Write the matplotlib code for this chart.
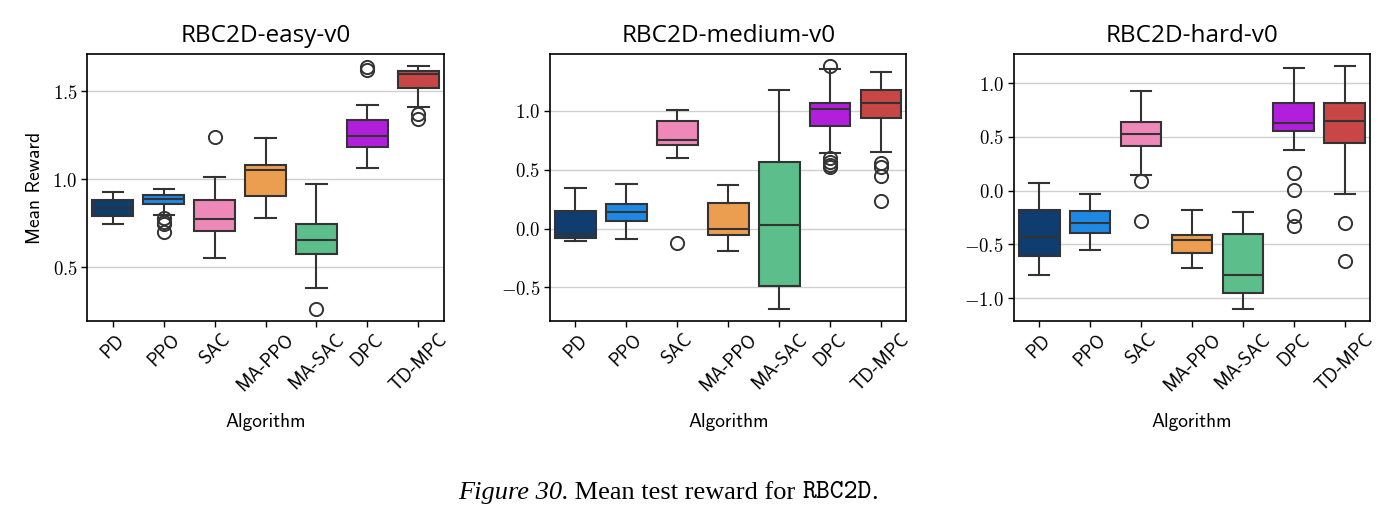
import os
import matplotlib
matplotlib.use("Agg")
import matplotlib.pyplot as plt
from matplotlib import font_manager
from matplotlib.ticker import FuncFormatter, MultipleLocator

_fdir = os.path.join(matplotlib.get_data_path(), "fonts", "ttf")
for _f in ("cmss10.ttf", "cmr10.ttf", "cmtt10.ttf"):
    _p = os.path.join(_fdir, _f)
    if os.path.exists(_p):
        font_manager.fontManager.addfont(_p)

plt.rcParams['mathtext.fontset'] = 'cm'

algorithms = ["PD", "PPO", "SAC", "MA-PPO", "MA-SAC", "DPC", "TD-MPC"]
colors = ["#0f3d70", "#1e88e5", "#ee88b8", "#eb9d50", "#5cbe8a", "#b11fdd", "#c94646"]
titles = ["RBC2D-easy-v0", "RBC2D-medium-v0", "RBC2D-hard-v0"]

# easy
easy_whislo = [0.748, 0.797, 0.551, 0.780, 0.381, 1.064, 1.409]
easy_q1     = [0.792, 0.858, 0.708, 0.903, 0.574, 1.186, 1.517]
easy_med    = [0.839, 0.890, 0.777, 1.051, 0.653, 1.248, 1.600]
easy_q3     = [0.884, 0.909, 0.883, 1.080, 0.746, 1.337, 1.617]
easy_whishi = [0.926, 0.945, 1.013, 1.233, 0.972, 1.422, 1.644]
easy_fliers = [[], [0.778, 0.759, 0.746, 0.703], [1.242], [], [0.263], [1.640, 1.621], [1.371, 1.345]]

# medium
med_whislo = [-0.105, -0.091, 0.603, -0.190, -0.680, 0.646, 0.652]
med_q1     = [-0.079, 0.068, 0.714, -0.057, -0.487, 0.873, 0.941]
med_med    = [-0.042, 0.142, 0.751, -0.006, 0.028, 1.014, 1.065]
med_q3     = [0.150, 0.210, 0.918, 0.218, 0.567, 1.071, 1.178]
med_whishi = [0.346, 0.380, 1.006, 0.368, 1.176, 1.354, 1.331]
med_fliers = [[], [], [-0.122], [], [], [1.382, 0.598, 0.569, 0.541, 0.521], [0.561, 0.527, 0.448, 0.232]]

# hard
hard_whislo = [-0.784, -0.552, 0.146, -0.716, -1.098, 0.381, -0.034]
hard_q1     = [-0.611, -0.397, 0.416, -0.580, -0.949, 0.555, 0.440]
hard_med    = [-0.431, -0.304, 0.527, -0.462, -0.781, 0.626, 0.651]
hard_q3     = [-0.180, -0.189, 0.642, -0.409, -0.406, 0.816, 0.812]
hard_whishi = [0.074, -0.031, 0.927, -0.180, -0.202, 1.141, 1.160]
hard_fliers = [[], [], [0.087, -0.285], [], [], [0.161, 0.006, -0.233, -0.329], [-0.298, -0.657]]

panels = [
    (easy_whislo, easy_q1, easy_med, easy_q3, easy_whishi, easy_fliers, (0.195, 1.712), 0.5),
    (med_whislo, med_q1, med_med, med_q3, med_whishi, med_fliers, (-0.785, 1.484), 0.5),
    (hard_whislo, hard_q1, hard_med, hard_q3, hard_whishi, hard_fliers, (-1.212, 1.271), 0.5),
]

W, H = 1395, 523
fig = plt.figure(figsize=(W / 100, H / 100), dpi=100)
lefts = [87.3, 550.0, 1013.7]
aw = 356.5
top_px, bot_px = 54, 321

label_font = ['cmss10', 'DejaVu Sans']
edge = "#333333"

for i, (wlo, q1, med, q3, whi, fl, ylim, step) in enumerate(panels):
    ax = fig.add_axes([lefts[i] / W, 1 - bot_px / H, aw / W, (bot_px - top_px) / H])
    stats = []
    for j in range(len(algorithms)):
        stats.append(dict(whislo=wlo[j], q1=q1[j], med=med[j], q3=q3[j],
                          whishi=whi[j], fliers=fl[j], label=algorithms[j]))
    bp = ax.bxp(stats, positions=range(len(algorithms)), widths=0.8,
                patch_artist=True, showfliers=True,
                boxprops=dict(edgecolor=edge, linewidth=1.5),
                medianprops=dict(color=edge, linewidth=1.5),
                whiskerprops=dict(color=edge, linewidth=1.5),
                capprops=dict(color=edge, linewidth=1.5),
                capwidths=0.4,
                flierprops=dict(marker='o', markerfacecolor='none',
                                markeredgecolor=edge, markersize=9.5,
                                markeredgewidth=1.4))
    for patch, c in zip(bp['boxes'], colors):
        patch.set_facecolor(c)
    ax.set_xlim(-0.5, len(algorithms) - 0.5)
    ax.set_ylim(*ylim)
    ax.yaxis.set_major_locator(MultipleLocator(step))
    ax.yaxis.set_major_formatter(FuncFormatter(lambda v, p: r"$%.1f$" % v))
    ax.grid(axis='y', color='#d0d0d0', linewidth=1.0)
    ax.set_axisbelow(True)
    for s in ax.spines.values():
        s.set_color('black')
        s.set_linewidth(1.2)
    ax.tick_params(axis='y', labelsize=13.5, length=4, width=1.0, pad=3)
    ax.tick_params(axis='x', length=4, width=1.0, pad=3)
    ax.set_xticks(range(len(algorithms)))
    ax.set_xticklabels(algorithms, rotation=45, fontsize=13.5, family=label_font)
    ax.set_title(titles[i], fontsize=17.5, family='Open Sans', pad=9)
    ax.set_xlabel("Algorithm", fontsize=14, family=label_font, labelpad=13)
    if i == 0:
        ax.set_ylabel("Mean Reward", fontsize=14, family=label_font, labelpad=6)

# caption, built piece by piece and centred
cap_parts = [("Figure 30.", dict(family='Liberation Serif', style='italic')),
             (" Mean test reward for ", dict(family='Liberation Serif')),
             ("RBC2D", dict(family=['cmtt10', 'DejaVu Sans Mono'])),
             (".", dict(family='Liberation Serif'))]
cap_size = 19
cap_y = 1 - 493 / H
fig.canvas.draw()
renderer = fig.canvas.get_renderer()
texts = []
widths = []
for s, kw in cap_parts:
    t = fig.text(0, cap_y, s, fontsize=cap_size, ha='left', va='center', **kw)
    bb = t.get_window_extent(renderer=renderer)
    texts.append(t)
    widths.append(bb.width)
total = sum(widths)
x = 668 - total / 2
for t, w in zip(texts, widths):
    t.set_x(x / W)
    x += w
fig.savefig("out.png", dpi=100)
